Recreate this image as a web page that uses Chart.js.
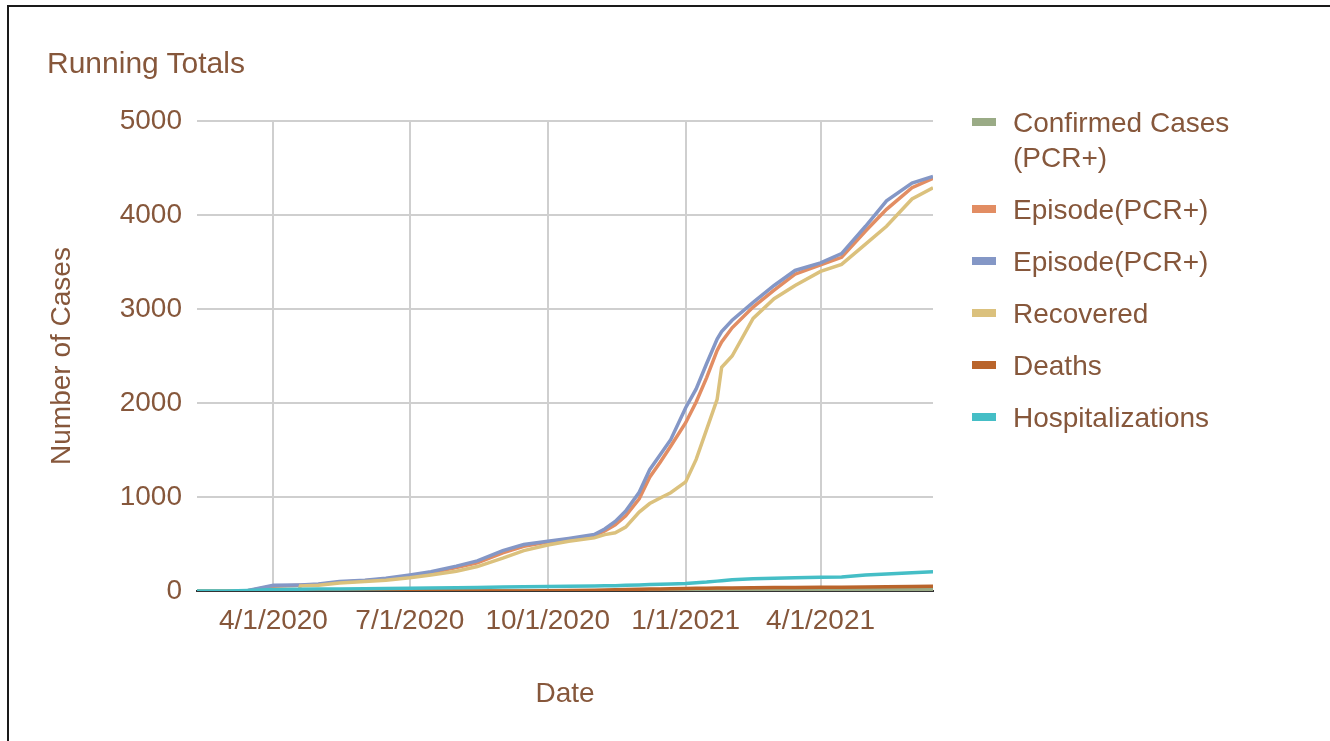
<!DOCTYPE html>
<html>
<head>
<meta charset="utf-8">
<script src="https://cdn.jsdelivr.net/npm/chart.js@4.4.1/dist/chart.umd.min.js"></script>
<style>
  html, body { margin: 0; padding: 0; background: #fff; }
  body { width: 1330px; height: 741px; position: relative; overflow: hidden; font-family: "Liberation Sans", Arial, sans-serif; color: #86573b; }
  .frame { position: absolute; left: 7px; top: 5px; right: -10px; bottom: -10px; border-left: 2px solid #1a1a1a; border-top: 2px solid #1a1a1a; }
  .chart-box { position: absolute; left: 0; top: 0; width: 1330px; height: 741px; }
  .title { position: absolute; left: 47px; top: 48px; font-size: 30px; line-height: 30px; white-space: nowrap; }
  .legend { position: absolute; left: 972px; top: 105px; width: 341px; }
  .legend-item { position: relative; padding-left: 41px; font-size: 28px; line-height: 35px; margin-bottom: 17px; }
  .legend-item .swatch { position: absolute; left: 0; top: 13px; width: 24px; height: 8px; }
</style>
</head>
<body>
<div class="frame"></div>
<div class="chart-box"><canvas id="chart"></canvas></div>
<div class="title">Running Totals</div>
<div class="legend" id="legend"></div>
<script>
// Sample dates
const DATES = [
    '2020-02-10', '2020-03-01', '2020-03-15', '2020-04-01', '2020-04-15', '2020-04-18', '2020-04-19',
    '2020-05-01', '2020-05-15', '2020-06-01', '2020-06-15', '2020-07-01', '2020-07-15', '2020-08-01',
    '2020-08-15', '2020-09-01', '2020-09-15', '2020-10-01', '2020-10-15', '2020-11-01', '2020-11-08',
    '2020-11-15', '2020-11-22', '2020-12-01', '2020-12-08', '2020-12-15', '2020-12-22', '2021-01-01',
    '2021-01-08', '2021-01-15', '2021-01-22', '2021-01-25', '2021-02-01', '2021-02-15', '2021-03-01',
    '2021-03-15', '2021-04-01', '2021-04-15', '2021-05-01', '2021-05-15', '2021-06-01', '2021-06-15'
];

const CONFIRMED = [0, 0, 0, 0, 0, 0, 0, 0, 0, 0, 0, 0, 0, 0, 0, 0, 0, 0, 0, 1, 2, 2, 3, 4, 5, 5, 6, 7, 7, 8, 8, 9, 9, 10, 10, 11, 11, 12, 12, 13, 14, 15];
const EPISODE_A = [0, 0, 3, 50, 58, 60, 60, 70, 92, 108, 128, 160, 195, 250, 300, 405, 475, 520, 552, 590, 640, 705, 800, 980, 1210, 1370, 1540, 1790, 2010, 2270, 2560, 2650, 2800, 3020, 3200, 3370, 3470, 3550, 3830, 4060, 4290, 4390];
const EPISODE_B = [0, 0, 5, 60, 63, 64, 65, 75, 100, 115, 135, 170, 205, 265, 320, 430, 495, 530, 560, 600, 660, 740, 850, 1050, 1290, 1450, 1610, 1950, 2150, 2420, 2680, 2760, 2880, 3070, 3250, 3410, 3490, 3590, 3880, 4150, 4340, 4410];
const RECOVERED = [0, 0, 0, 0, 0, 0, 55, 62, 85, 100, 115, 140, 170, 210, 260, 350, 430, 490, 530, 565, 600, 620, 680, 840, 930, 990, 1045, 1160, 1400, 1720, 2040, 2380, 2500, 2900, 3110, 3250, 3400, 3475, 3690, 3880, 4170, 4290];
const DEATHS = [0, 0, 0, 0, 0, 0, 0, 0, 0, 0, 0, 0, 0, 0, 0, 0, 0, 3, 5, 8, 10, 12, 15, 18, 20, 22, 25, 27, 28, 30, 31, 32, 33, 35, 37, 38, 40, 41, 43, 45, 47, 50];
const HOSP = [0, 0, 5, 15, 18, 18, 19, 20, 22, 25, 27, 30, 32, 35, 38, 42, 45, 48, 50, 53, 55, 57, 60, 65, 68, 72, 75, 80, 88, 95, 105, 110, 120, 130, 135, 140, 145, 150, 170, 180, 195, 205];

const X_START = '2020-02-10';
const X_END = '2021-06-15';
const X_TICKS = ['2020-04-01', '2020-07-01', '2020-10-01', '2021-01-01', '2021-04-01'];
const Y_TICKS = [0, 1000, 2000, 3000, 4000, 5000];

const TEXT = '#86573b';
const FONT = '"Liberation Sans", Arial, sans-serif';

function ms(d) {
    const p = d.split('-').map(Number);
    return Date.UTC(p[0], p[1] - 1, p[2]);
}

function fmt(v) {
    const d = new Date(v);
    return (d.getUTCMonth() + 1) + '/' + d.getUTCDate() + '/' + d.getUTCFullYear();
}

function series(values) {
    return values.map((v, i) => ({ x: ms(DATES[i]), y: v }));
}

const SERIES = [
    { label: 'Confirmed Cases (PCR+)', values: CONFIRMED, color: '#9aab86', order: 5 },
    { label: 'Episode(PCR+)', values: EPISODE_A, color: '#e28d63', order: 4 },
    { label: 'Episode(PCR+)', values: EPISODE_B, color: '#8497c6', order: 3 },
    { label: 'Recovered', values: RECOVERED, color: '#dbc17d', order: 1 },
    { label: 'Deaths', values: DEATHS, color: '#b9642b', order: 2 },
    { label: 'Hospitalizations', values: HOSP, color: '#45bec6', order: 0 }
];

const chart = new Chart(document.getElementById('chart'), {
    type: 'line',
    data: {
        datasets: SERIES.map(s => ({
            label: s.label,
            data: series(s.values),
            borderColor: s.color,
            backgroundColor: s.color,
            borderWidth: 3.5,
            pointRadius: 0,
            tension: 0,
            order: s.order
        }))
    },
    options: {
        responsive: true,
        maintainAspectRatio: false,
        animation: false,
        layout: { padding: { left: 30, top: 121, right: 397, bottom: 10 } },
        plugins: {
            legend: { display: false },
            title: { display: false },
            tooltip: { enabled: false }
        },
        scales: {
            x: {
                type: 'linear',
                min: ms(X_START),
                max: ms(X_END),
                afterBuildTicks: scale => { scale.ticks = X_TICKS.map(d => ({ value: ms(d) })); },
                afterFit: scale => { scale.height = 140; },
                grid: { color: '#cfcfcf', lineWidth: 2, drawTicks: false },
                border: { color: '#333', width: 2 },
                ticks: {
                    autoSkip: false, maxRotation: 0, padding: 13,
                    color: TEXT, font: { family: FONT, size: 28 },
                    callback: v => fmt(v)
                },
                title: {
                    display: true, text: 'Date', color: TEXT,
                    font: { family: FONT, size: 28, lineHeight: 1.2 },
                    padding: { top: 0, bottom: 20 }
                }
            },
            y: {
                min: 0,
                max: 5000,
                afterBuildTicks: scale => { scale.ticks = Y_TICKS.map(v => ({ value: v })); },
                afterFit: scale => { scale.width = 167; },
                grid: { color: '#cfcfcf', lineWidth: 2, drawTicks: false },
                border: { display: false },
                ticks: {
                    padding: 15, color: TEXT, font: { family: FONT, size: 28 },
                    callback: v => String(v)
                },
                title: {
                    display: true, text: 'Number of Cases', color: TEXT,
                    font: { family: FONT, size: 28, lineHeight: 1.2 },
                    padding: { top: 15, bottom: 0 }
                }
            }
        }
    }
});

// HTML legend, built from the datasets
const legend = document.getElementById('legend');
chart.data.datasets.forEach(ds => {
    const item = document.createElement('div');
    item.className = 'legend-item';
    item.innerHTML = `<span class="swatch" style="background:${ds.borderColor}"></span>${ds.label}`;
    legend.appendChild(item);
});
</script>
</body>
</html>
